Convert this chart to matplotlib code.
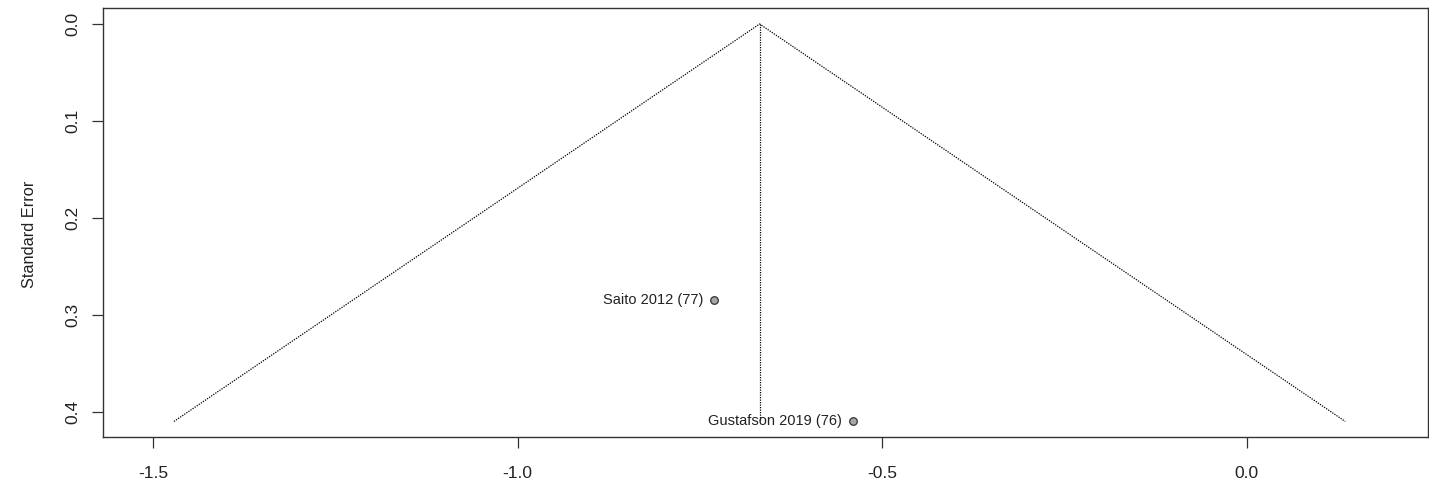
import matplotlib.pyplot as plt
import numpy as np

plt.rcParams['font.family'] = ['Liberation Sans', 'DejaVu Sans']

studies = ['Saito 2012 (77)', 'Gustafson 2019 (76)']
effect = np.array([-0.730, -0.540])
se = np.array([0.285, 0.410])

# pooled estimate (inverse variance) and the 95% funnel
w = 1 / se ** 2
pooled = np.sum(w * effect) / np.sum(w)
se_max = se.max()

fig = plt.figure(figsize=(14.29, 4.9), dpi=100)
ax = fig.add_axes([0.0721, 0.1082, 0.9272, 0.8755])

ax.plot([pooled - 1.96 * se_max, pooled, pooled + 1.96 * se_max],
        [se_max, 0, se_max], color='black', linestyle=(0, (1, 1)), linewidth=0.9)
ax.plot([pooled, pooled], [0, se_max], color='black', linestyle=(0, (1, 1)), linewidth=0.9)

ax.scatter(effect, se, s=30, facecolor='#a6a6a6', edgecolor='#333333', linewidth=0.9, zorder=3)
for name, x, y in zip(studies, effect, se):
    ax.annotate(name, (x, y), xytext=(-8, 0), textcoords='offset points',
                ha='right', va='center', fontsize=10.5, color='#222222')

ax.set_xlim(-1.569, 0.249)
ax.set_ylim(0.426, -0.0165)
ax.set_xticks([-1.5, -1.0, -0.5, 0.0])
ax.set_xticklabels(['-1.5', '-1.0', '-0.5', '0.0'])
ax.set_yticks([0.0, 0.1, 0.2, 0.3, 0.4])
ax.set_yticklabels(['0.0', '0.1', '0.2', '0.3', '0.4'], rotation=90, va='center')
ax.tick_params(axis='both', labelsize=12.5, length=8, width=0.9, color='#333333', labelcolor='#222222')
ax.tick_params(axis='x', pad=13)
ax.tick_params(axis='y', pad=8)
ax.set_ylabel('Standard Error', fontsize=11.8, color='#222222')
ax.yaxis.set_label_coords(-0.050, 0.473)
for sp in ax.spines.values():
    sp.set_color('#333333')
    sp.set_linewidth(1.0)

fig.savefig('out.png', dpi=100)
